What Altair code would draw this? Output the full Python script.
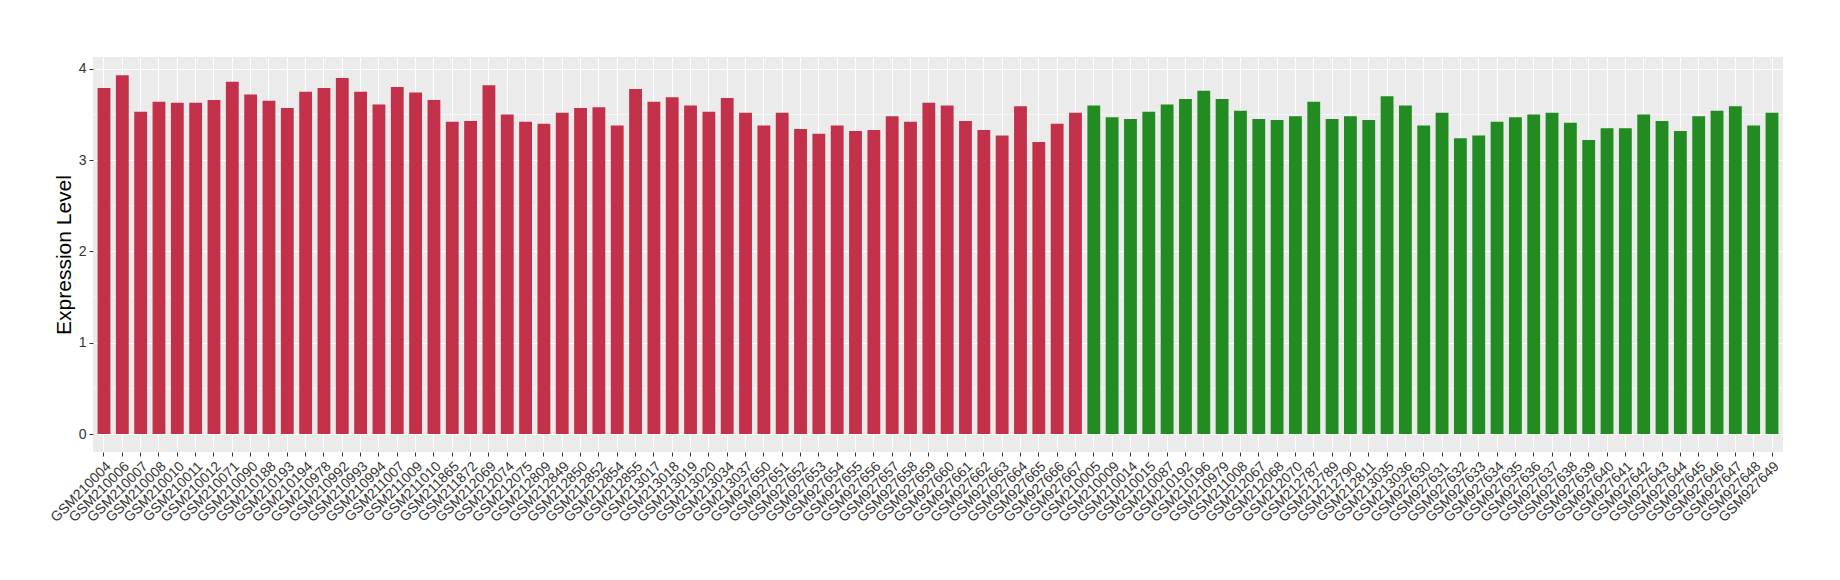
import altair as alt
import pandas as pd

red_samples = ["GSM210004", "GSM210006", "GSM210007", "GSM210008", "GSM210010", "GSM210011",
               "GSM210012", "GSM210071", "GSM210090", "GSM210188", "GSM210193", "GSM210194",
               "GSM210978", "GSM210992", "GSM210993", "GSM210994", "GSM211007", "GSM211009",
               "GSM211010", "GSM211865", "GSM211872", "GSM212069", "GSM212074", "GSM212075",
               "GSM212809", "GSM212849", "GSM212850", "GSM212852", "GSM212854", "GSM212855",
               "GSM213017", "GSM213018", "GSM213019", "GSM213020", "GSM213034", "GSM213037",
               "GSM927650", "GSM927651", "GSM927652", "GSM927653", "GSM927654", "GSM927655",
               "GSM927656", "GSM927657", "GSM927658", "GSM927659", "GSM927660", "GSM927661",
               "GSM927662", "GSM927663", "GSM927664", "GSM927665", "GSM927666", "GSM927667"]
red_values = [3.79, 3.93, 3.53, 3.64, 3.63, 3.63, 3.66, 3.86, 3.72, 3.65, 3.57, 3.75,
              3.79, 3.90, 3.75, 3.61, 3.80, 3.74, 3.66, 3.42, 3.43, 3.82, 3.50, 3.42,
              3.40, 3.52, 3.57, 3.58, 3.38, 3.78, 3.64, 3.69, 3.60, 3.53, 3.68, 3.52,
              3.38, 3.52, 3.34, 3.29, 3.38, 3.32, 3.33, 3.48, 3.42, 3.63, 3.60, 3.43,
              3.33, 3.27, 3.59, 3.20, 3.40, 3.52]

green_samples = ["GSM210005", "GSM210009", "GSM210014", "GSM210015", "GSM210087", "GSM210192",
                 "GSM210196", "GSM210979", "GSM211008", "GSM212067", "GSM212068", "GSM212070",
                 "GSM212787", "GSM212789", "GSM212790", "GSM212811", "GSM213035", "GSM213036",
                 "GSM927630", "GSM927631", "GSM927632", "GSM927633", "GSM927634", "GSM927635",
                 "GSM927636", "GSM927637", "GSM927638", "GSM927639", "GSM927640", "GSM927641",
                 "GSM927642", "GSM927643", "GSM927644", "GSM927645", "GSM927646", "GSM927647",
                 "GSM927648", "GSM927649"]
green_values = [3.60, 3.47, 3.45, 3.53, 3.61, 3.67, 3.76, 3.67, 3.54, 3.45, 3.44, 3.48,
                3.64, 3.45, 3.48, 3.44, 3.70, 3.60, 3.38, 3.52, 3.24, 3.27, 3.42, 3.47,
                3.50, 3.52, 3.41, 3.22, 3.35, 3.35, 3.50, 3.43, 3.32, 3.48, 3.54, 3.59,
                3.38, 3.52]

minor_grid = [0.5, 1.5, 2.5, 3.5]

df = pd.DataFrame({
    "sample": red_samples + green_samples,
    "value": red_values + green_values,
    "group": ["red"] * len(red_samples) + ["green"] * len(green_samples),
})
order = red_samples + green_samples

yscale = alt.Scale(domain=[-0.197, 4.13], nice=False, zero=False)
xscale = alt.Scale(domain=order, paddingInner=0.3, paddingOuter=0.25)

minor = alt.Chart(pd.DataFrame({"v": minor_grid})).mark_rule(
    color="white", strokeWidth=0.6
).encode(y=alt.Y("v:Q", scale=yscale))

bars = alt.Chart(df).mark_bar().encode(
    x=alt.X("sample:N", scale=xscale, sort=order, title=None,
            axis=alt.Axis(labelAngle=315, labelAlign="right", labelBaseline="top",
                          labelOverlap=False, labelFontSize=14, labelColor="#333333",
                          labelFont="Liberation Sans", labelPadding=3,
                          tickColor="#333333", tickSize=4, domain=False,
                          grid=True, gridColor="white", gridWidth=1.1,
                          bandPosition=0.5)),
    y=alt.Y("value:Q", scale=yscale, title="Expression Level",
            axis=alt.Axis(values=[0, 1, 2, 3, 4], format="d", labelFontSize=14,
                          labelColor="#333333",
                          labelFont="Liberation Sans", tickColor="#333333", tickSize=4,
                          labelPadding=3, domain=False, grid=True, gridColor="white",
                          gridWidth=1.2, titleFontSize=21, titleFont="Liberation Sans",
                          titleFontWeight="normal", titleColor="black", titlePadding=4)),
    y2=alt.datum(0),
    color=alt.Color("group:N", scale=alt.Scale(domain=["red", "green"],
                                                range=["#C3304A", "#228B22"]), legend=None),
)

chart = alt.layer(minor, bars).properties(
    width=1690, height=395,
    autosize=alt.AutoSizeParams(type="none"),
    padding={"left": 85, "top": 49, "right": 49, "bottom": 120},
).configure_view(fill="#EBEBEB", stroke=None)

chart.save("out.html", embed_options={"renderer": "svg", "actions": False})
